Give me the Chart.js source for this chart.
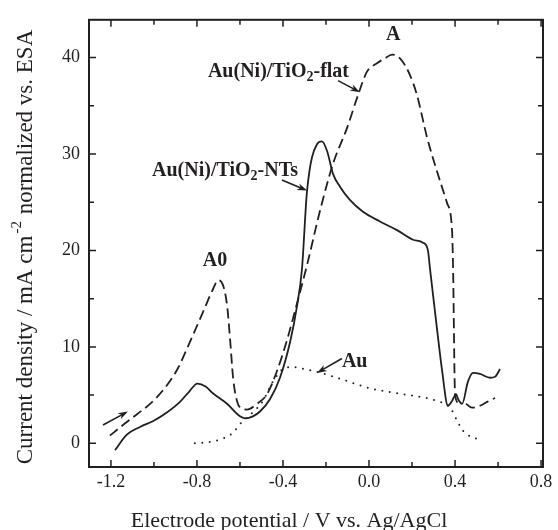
<!DOCTYPE html>
<html>
<head>
<meta charset="utf-8">
<script src="https://cdn.jsdelivr.net/npm/chart.js@4"></script>
<style>
  html, body { margin: 0; padding: 0; background: #fff; }
  #wrap { width: 558px; height: 530px; }
</style>
</head>
<body>
<div id="wrap"><canvas id="chart" width="558" height="530"></canvas></div>
<script>
const FONT = "'Liberation Serif', 'Times New Roman', serif";
const INK = "#231f20";

// Au(Ni)/TiO2-NTs (solid)
const ntsX = [-1.181, -1.126, -1.065, -1.005, -0.94, -0.879, -0.835, -0.798, -0.76, -0.726, -0.66, -0.6, -0.577, -0.54, -0.507, -0.46,
  -0.414, -0.367, -0.335, -0.312, -0.288, -0.242, -0.219, -0.195, -0.167, -0.135, -0.088, -0.028, 0.051, 0.13, 0.205, 0.251,
  0.274, 0.284, 0.316, 0.34, 0.367, 0.386, 0.405, 0.414, 0.433, 0.46, 0.484, 0.516, 0.563, 0.586, 0.609];
const ntsY = [-0.7, 0.9, 1.7, 2.3, 3.2, 4.3, 5.4, 6.2, 5.9, 5.2, 4.1, 2.8, 2.6, 2.8, 3.3, 4.6,
  6.8, 10.5, 14.2, 18.0, 26.2, 31.0, 31.3, 30.3, 27.9, 26.6, 25.2, 24.0, 23.0, 22.1, 21.1, 20.8,
  20.0, 18.0, 11.9, 7.5, 3.9, 4.4, 5.1, 4.6, 4.1, 6.4, 7.3, 7.2, 6.8, 6.9, 7.7];

// Au(Ni)/TiO2-flat (dashed)
const flatX = [-1.205, -1.144, -1.08, -1.018, -0.958, -0.893, -0.833, -0.772, -0.725, -0.702, -0.679, -0.66, -0.646, -0.632, -0.614,
  -0.591, -0.567, -0.521, -0.474, -0.428, -0.38, -0.335, -0.288, -0.228, -0.167, -0.102, -0.051, -0.01, 0.037, 0.074, 0.107,
  0.144, 0.19, 0.223, 0.27, 0.316, 0.363, 0.386, 0.391, 0.4, 0.414, 0.43, 0.451, 0.479, 0.516, 0.549, 0.586];
const flatY = [0.8, 1.9, 3.0, 4.1, 5.5, 7.6, 10.5, 13.6, 16.0, 16.9, 16.4, 14.3, 10.8, 6.8, 4.4,
  3.6, 3.5, 4.1, 5.1, 7.5, 10.8, 14.5, 18.5, 24.1, 29.0, 32.7, 36.1, 38.5, 39.4, 39.9, 40.3,
  39.9, 38.2, 36.1, 31.7, 28.2, 24.9, 22.1, 18.0, 5.1, 4.2, null, 4.1, 3.7, 3.9, 4.3, 4.7];

// Au (dotted)
const auX = [-0.81, -0.707, -0.632, -0.6, -0.55, -0.493, -0.447, -0.4, -0.353, -0.3, -0.242, -0.149, 0.005, 0.158, 0.316, 0.377, 0.409, 0.437, 0.516];
const auY = [0.0, 0.3, 1.1, 2.0, 3.0, 4.4, 6.4, 7.7, 7.9, 7.7, 7.4, 6.8, 5.7, 5.1, 4.4, 3.7, 2.4, 1.3, 0.3];

const xTickLabels = ["-1.2", "-0.8", "-0.4", "0.0", "0.4", "0.8"];
const yTickLabels = ["0", "10", "20", "30", "40"];

// annotation text, placed in data units
const peakLabels = [
  { text: "A", x: 0.112, y: 42.3 },
  { text: "A0", x: -0.716, y: 18.9 }
];
const seriesLabels = [
  { pre: "Au(Ni)/TiO", sub: "2", post: "-flat", x: -0.749, y: 37.95 },
  { pre: "Au(Ni)/TiO", sub: "2", post: "-NTs", x: -1.009, y: 27.7 },
  { pre: "Au", sub: "", post: "", x: -0.126, y: 7.9 }
];
const arrows = [
  { x1: -0.144, y1: 37.6, x2: -0.042, y2: 36.4 },
  { x1: -0.405, y1: 27.3, x2: -0.288, y2: 26.2 },
  { x1: -0.126, y1: 8.8, x2: -0.242, y2: 7.3 },
  { x1: -1.237, y1: 1.9, x2: -1.121, y2: 3.3 }
];

function pts(xs, ys) {
  return xs.map((x, i) => ({ x: x, y: ys[i] }));
}

function drawArrow(ctx, x1, y1, x2, y2) {
  const a = Math.atan2(y2 - y1, x2 - x1);
  const head = 10, half = 3.5;
  const c = Math.cos(a), s = Math.sin(a);
  ctx.beginPath();
  ctx.moveTo(x1, y1);
  ctx.lineTo(x2 - c * head * 0.6, y2 - s * head * 0.6);
  ctx.stroke();
  ctx.beginPath();
  ctx.moveTo(x2, y2);
  ctx.lineTo(x2 - c * head + s * half, y2 - s * head - c * half);
  ctx.lineTo(x2 - c * head * 0.7, y2 - s * head * 0.7);
  ctx.lineTo(x2 - c * head - s * half, y2 - s * head + c * half);
  ctx.closePath();
  ctx.fill();
}

const decor = {
  id: "decor",
  afterDraw(chart) {
    const ctx = chart.ctx;
    const area = chart.chartArea;
    const xs = chart.scales.x, ys = chart.scales.y;
    ctx.save();
    ctx.strokeStyle = INK;
    ctx.fillStyle = INK;

    // frame
    ctx.lineWidth = 2;
    ctx.strokeRect(area.left, area.top, area.right - area.left, area.bottom - area.top);

    // inward ticks on all four sides
    ctx.lineWidth = 1.5;
    ctx.beginPath();
    xs.ticks.forEach(t => {
      const p = xs.getPixelForValue(t.value);
      const len = t.label !== "" ? 7 : 5;
      ctx.moveTo(p, area.bottom); ctx.lineTo(p, area.bottom - len);
      ctx.moveTo(p, area.top); ctx.lineTo(p, area.top + len);
    });
    ys.ticks.forEach(t => {
      const p = ys.getPixelForValue(t.value);
      const len = t.label !== "" ? 7 : 5;
      ctx.moveTo(area.left, p); ctx.lineTo(area.left + len, p);
      ctx.moveTo(area.right, p); ctx.lineTo(area.right - len, p);
    });
    ctx.stroke();

    // axis titles
    ctx.textBaseline = "alphabetic";
    ctx.font = "22px " + FONT;
    ctx.textAlign = "center";
    ctx.fillText("Electrode potential / V vs. Ag/AgCl", 289, 527);

    ctx.save();
    ctx.translate(32, 247);
    ctx.rotate(-Math.PI / 2);
    const partA = "Current density / mA cm";
    const partB = "-2";
    const partC = " normalized vs. ESA";
    ctx.font = "23px " + FONT;
    const wA = ctx.measureText(partA).width;
    const wC = ctx.measureText(partC).width;
    ctx.font = "15px " + FONT;
    const wB = ctx.measureText(partB).width + 3;
    let x0 = -(wA + wB + wC) / 2;
    ctx.textAlign = "left";
    ctx.font = "23px " + FONT;
    ctx.fillText(partA, x0, 0);
    ctx.font = "15px " + FONT;
    ctx.fillText(partB, x0 + wA + 2, -11);
    ctx.font = "23px " + FONT;
    ctx.fillText(partC, x0 + wA + wB, 0);
    ctx.restore();

    // peak labels
    ctx.font = "bold 20px " + FONT;
    ctx.textAlign = "center";
    ctx.textBaseline = "middle";
    peakLabels.forEach(l => {
      ctx.fillText(l.text, xs.getPixelForValue(l.x), ys.getPixelForValue(l.y));
    });

    // series labels with subscript
    ctx.textAlign = "left";
    ctx.textBaseline = "alphabetic";
    seriesLabels.forEach(l => {
      let px = xs.getPixelForValue(l.x);
      const py = ys.getPixelForValue(l.y);
      ctx.font = "bold 20px " + FONT;
      ctx.fillText(l.pre, px, py);
      px += ctx.measureText(l.pre).width;
      if (l.sub) {
        ctx.font = "bold 14px " + FONT;
        ctx.fillText(l.sub, px, py + 4);
        px += ctx.measureText(l.sub).width;
      }
      ctx.font = "bold 20px " + FONT;
      ctx.fillText(l.post, px, py);
    });

    // arrows
    ctx.lineWidth = 1.6;
    arrows.forEach(a => {
      drawArrow(ctx, xs.getPixelForValue(a.x1), ys.getPixelForValue(a.y1),
        xs.getPixelForValue(a.x2), ys.getPixelForValue(a.y2));
    });
    ctx.restore();
  }
};

new Chart(document.getElementById("chart"), {
  type: "line",
  data: {
    datasets: [
      { label: "Au(Ni)/TiO2-NTs", data: pts(ntsX, ntsY), borderColor: INK, borderWidth: 1.8,
        cubicInterpolationMode: "monotone", pointRadius: 0 },
      { label: "Au(Ni)/TiO2-flat", data: pts(flatX, flatY), borderColor: INK, borderWidth: 1.8,
        borderDash: [10, 5], cubicInterpolationMode: "monotone", pointRadius: 0, spanGaps: false },
      { label: "Au", data: pts(auX, auY), borderColor: INK, borderWidth: 2,
        borderDash: [0, 7.5], borderCapStyle: "round", cubicInterpolationMode: "monotone", pointRadius: 0 }
    ]
  },
  options: {
    responsive: false,
    animation: false,
    devicePixelRatio: 1,
    layout: { padding: { top: 14, right: 15, left: 0, bottom: 0 } },
    plugins: { legend: { display: false }, tooltip: { enabled: false } },
    scales: {
      x: {
        type: "linear", min: -1.302, max: 0.809,
        grid: { display: false, drawTicks: false }, border: { display: false },
        ticks: {
          stepSize: 0.2, includeBounds: false, padding: 4, autoSkip: false, maxRotation: 0,
          color: INK, font: { family: FONT, size: 18 },
          callback: v => {
            const s = (Math.round(v * 10) / 10).toFixed(1);
            return xTickLabels.includes(s) ? s : "";
          }
        },
        afterFit: s => { s.height = 63; }
      },
      y: {
        type: "linear", min: -2.45, max: 43.9,
        grid: { display: false, drawTicks: false }, border: { display: false },
        ticks: {
          stepSize: 5, includeBounds: false, padding: 9, autoSkip: false,
          color: INK, font: { family: FONT, size: 18 },
          callback: v => {
            const s = String(Math.round(v));
            return yTickLabels.includes(s) ? s : "";
          }
        },
        afterFit: s => { s.width = 89; }
      }
    }
  },
  plugins: [decor]
});
</script>
</body>
</html>
